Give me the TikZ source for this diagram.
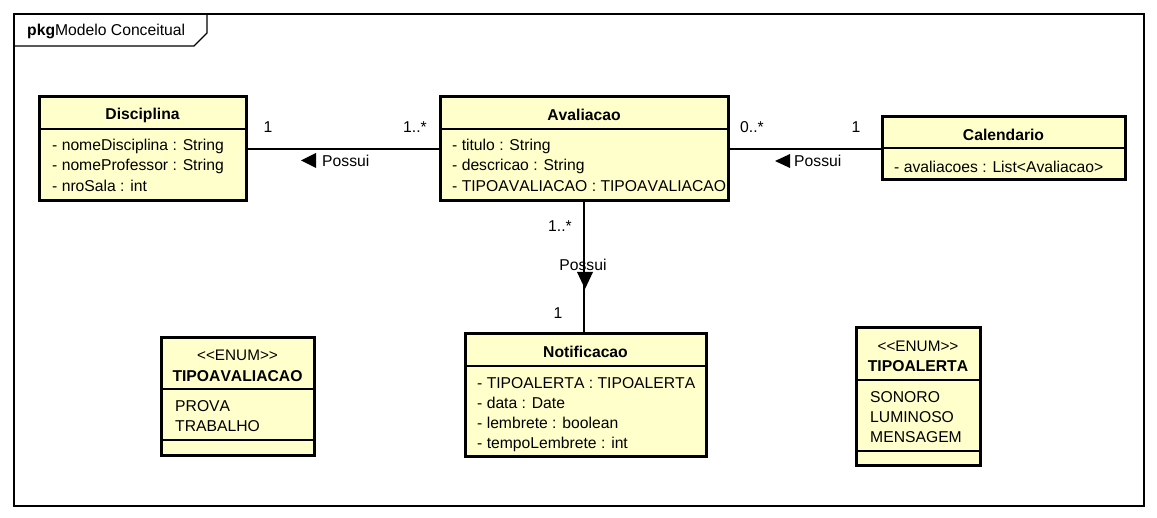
\documentclass[tikz,border=0pt]{standalone}
\usepackage{fontspec}
\setmainfont{Liberation Sans}[Kerning=Off]
\definecolor{classfill}{RGB}{255,255,204}
\tikzset{
  classbox/.style={draw=black, line width=3pt, fill=classfill, inner sep=0pt},
  attr/.style={anchor=west, inner sep=0pt},
  title/.style={inner sep=0pt, font=\fontsize{15.7}{19}\bfseries},
  thin/.style={black, line width=1.3pt},
}
\begin{document}
\begin{tikzpicture}[x=1pt, y=-1pt, font=\fontsize{15.7}{19}\selectfont]
    \tikzstyle{every node}+=[inner sep=0pt]
    \useasboundingbox (0,0) rectangle (1157,518);
    \draw [thin] (14,14) rectangle (1144,506);
    \draw [thin] (14,46) -- (194,46) -- (207,33) -- (207,14);
    \node [attr] (pkg) at (27,31) {\textbf{pkg}Modelo Conceitual};

    \node [classbox, minimum width=207pt, minimum height=104pt] (disciplina) at (142.5,149) {};
    \draw [thin] (39,129) -- (246,129);
    \node [title] (disciplinaT) at (142.5,115) {Disciplina};
    \node [attr] (disciplinaA) at (52,146) {- nomeDisciplina : String};
    \node [attr] (disciplinaB) at (52,166) {- nomeProfessor : String};
    \node [attr] (disciplinaC) at (52,186) {- nroSala : int};

    \node [classbox, minimum width=288pt, minimum height=104pt] (avaliacao) at (584,149) {};
    \draw [thin] (440,129) -- (728,129);
    \node [title] (avaliacaoT) at (584,115) {Avaliacao};
    \node [attr] (avaliacaoA) at (452,146) {- titulo : String};
    \node [attr] (avaliacaoB) at (452,166) {- descricao : String};
    \node [attr] (avaliacaoC) at (452,186) {- TIPOAVALIACAO : TIPOAVALIACAO};

    \node [classbox, minimum width=243pt, minimum height=63pt] (calendario) at (1003.5,148.5) {};
    \draw [thin] (882,148) -- (1125,148);
    \node [title] (calendarioT) at (1003.5,135) {Calendario};
    \node [attr] (calendarioA) at (894,167) {- avaliacoes : List<Avaliacao>};

    \node [classbox, minimum width=241pt, minimum height=123pt] (notificacao) at (585.5,395.5) {};
    \draw [thin] (465,366) -- (706,366);
    \node [title] (notificacaoT) at (585.5,352) {Notificacao};
    \node [attr] (notificacaoA) at (477,383) {- TIPOALERTA : TIPOALERTA};
    \node [attr] (notificacaoB) at (477,403) {- data : Date};
    \node [attr] (notificacaoC) at (477,423) {- lembrete : boolean};
    \node [attr] (notificacaoD) at (477,444) {- tempoLembrete : int};

    \node [classbox, minimum width=153pt, minimum height=118pt] (tipoavaliacao) at (237.5,397) {};
    \draw [thin] (161,389) -- (314,389);
    \draw [thin] (161,440) -- (314,440);
    \node (tipoavaliacaoS) at (237.5,355) {\fontsize{15.3}{18}\selectfont<{}<ENUM>{}>};
    \node [title] (tipoavaliacaoT) at (237.5,376) {TIPOAVALIACAO};
    \node [attr] (tipoavaliacaoA) at (175,406) {PROVA};
    \node [attr] (tipoavaliacaoB) at (175,426) {TRABALHO};

    \node [classbox, minimum width=124pt, minimum height=138pt] (tipoalerta) at (918,397) {};
    \draw [thin] (856,380) -- (980,380);
    \draw [thin] (856,451) -- (980,451);
    \node (tipoalertaS) at (918,346) {\fontsize{15.3}{18}\selectfont<{}<ENUM>{}>};
    \node [title] (tipoalertaT) at (918,366) {TIPOALERTA};
    \node [attr] (tipoalertaA) at (870,397) {SONORO};
    \node [attr] (tipoalertaB) at (870,417) {LUMINOSO};
    \node [attr] (tipoalertaC) at (870,437) {MENSAGEM};

    \draw [thin] (disciplina.east) -- (avaliacao.west);
    \node (m1) at (268,127) {1};
    \node (m2) at (415,127) {1..*};
    \node [attr] (possui1) at (322,161) {Possui};
    \fill [black] (316,153) -- (316,168) -- (301,160.5) -- cycle;

    \draw [thin] (avaliacao.east) -- (avaliacao.east -| calendario.west);
    \node (m3) at (752,127) {0..*};
    \node (m4) at (856,127) {1};
    \node [attr] (possui2) at (794,161) {Possui};
    \fill [black] (790,154) -- (790,168) -- (775,161) -- cycle;

    \draw [thin] (avaliacao.south) -- (avaliacao.south |- notificacao.north);
    \node (m5) at (560,226) {1..*};
    \node (m6) at (558,313) {1};
    \node (possui3) at (583,265) {Possui};
    \fill [black] (577,272) -- (593,272) -- (585,289) -- cycle;
\end{tikzpicture}
\end{document}
